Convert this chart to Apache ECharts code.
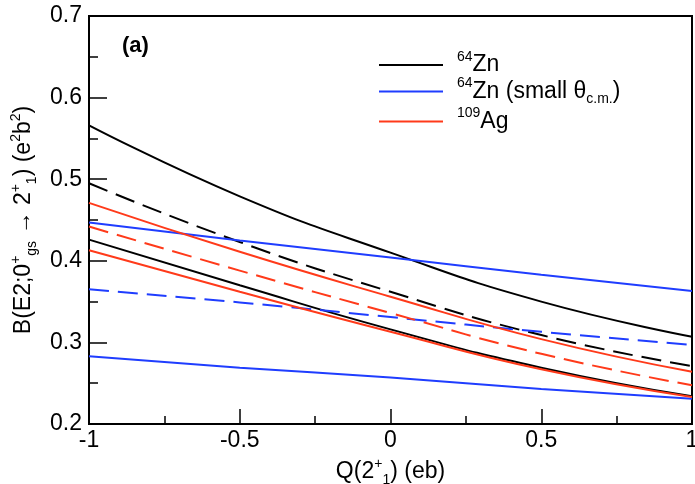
<!DOCTYPE html>
<html>
<head>
<meta charset="utf-8">
<script src="https://cdn.jsdelivr.net/npm/echarts@6/dist/echarts.min.js"></script>
<style>
html,body{margin:0;padding:0;background:#fff;}
#chart{width:695px;height:484px;}
</style>
</head>
<body>
<div id="chart"></div>
<script>
// Q(2+1) values (x axis)
const qValues = [-1, -0.5, 0, 0.5, 1];
// 64Zn (black)
const zn64Solid1 = [0.566, 0.479, 0.410, 0.350, 0.307];
const zn64Dashed = [0.495, 0.423, 0.362, 0.309, 0.271];
const zn64Solid2 = [0.426, 0.370, 0.316, 0.269, 0.234];
// 64Zn small theta c.m. (blue)
const zn64sSolid1 = [0.447, 0.425, 0.404, 0.383, 0.363];
const zn64sDashed = [0.365, 0.349, 0.331, 0.313, 0.297];
const zn64sSolid2 = [0.283, 0.269, 0.257, 0.243, 0.231];
// 109Ag (red)
const ag109Solid1 = [0.471, 0.411, 0.356, 0.304, 0.264];
const ag109Dashed = [0.442, 0.388, 0.336, 0.286, 0.2475];
const ag109Solid2 = [0.413, 0.362, 0.313, 0.267, 0.233];

const xTicks = [-1, -0.5, 0, 0.5, 1];
const yTicks = [0.2, 0.3, 0.4, 0.5, 0.6, 0.7];

const BLACK = '#000000', BLUE = '#1f3dff', RED = '#ff3a1a';
const FONT = 'Liberation Sans';

function pts(ys){ return qValues.map((q,i)=>[q, ys[i]]); }
function mk(name, ys, color, dashed){
  return {
    type:'line', name:name, data:pts(ys), smooth:0.5,
    showSymbol:false, symbol:'none', silent:true,
    lineStyle:{color:color, width:2, type: dashed ? [20,9] : 'solid'},
    itemStyle:{color:color}
  };
}

const rich = {
  sup:{fontFamily:FONT, fontSize:14, verticalAlign:'top', lineHeight:30, color:'#000'},
  sub:{fontFamily:FONT, fontSize:14, verticalAlign:'bottom', lineHeight:30, color:'#000'},
  t:{fontFamily:FONT, fontSize:23, lineHeight:30, color:'#000'}
};

const chart = echarts.init(document.getElementById('chart'), null, {renderer:'canvas'});
chart.setOption({
  animation:false,
  backgroundColor:'#fff',
  title:{
    text:'(a)', left:117, top:30,
    textStyle:{fontFamily:FONT, fontSize:22, fontWeight:'bold', color:'#000'}
  },
  legend:{
    data:['64Zn','64Zn small','109Ag'],
    orient:'vertical', left:374, top:45, itemGap:0,
    icon:'rect', itemWidth:64, itemHeight:2,
    formatter:function(n){
      if(n==='64Zn') return '{sup|64}{t|Zn}';
      if(n==='64Zn small') return '{sup|64}{t|Zn (small θ}{sub|c.m.}{t|)}';
      return '{sup|109}{t|Ag}';
    },
    textStyle:{fontFamily:FONT, fontSize:22, color:'#000', padding:[0,0,0,9], rich:rich}
  },
  grid:{left:89, right:3, top:16, bottom:60, show:true, borderColor:'#000', borderWidth:2,
        containLabel:false, outerBoundsMode:'none'},
  xAxis:{
    type:'value', min:-1, max:1, interval:0.5,
    axisLine:{show:true, onZero:false, lineStyle:{color:'#000', width:2}},
    axisTick:{show:true, inside:true, length:15, lineStyle:{color:'#000', width:1.5}},
    minorTick:{show:true, splitNumber:2, length:8, lineStyle:{color:'#000', width:1.5}},
    splitLine:{show:false},
    axisLabel:{fontFamily:FONT, fontSize:23, color:'#000', margin:5,
      formatter:function(v){ return xTicks.indexOf(v)>=0 ? String(v) : ''; }},
    name:'{t|Q(2}{sup|+}{sub|1}{t|) (eb)}',
    nameLocation:'middle', nameGap:30,
    nameTextStyle:{rich:rich, fontFamily:FONT, fontSize:23}
  },
  yAxis:{
    type:'value', min:0.2, max:0.7, interval:0.1,
    axisLine:{show:true, onZero:false, lineStyle:{color:'#000', width:2}},
    axisTick:{show:true, inside:true, length:18, lineStyle:{color:'#000', width:1.5}},
    minorTick:{show:true, splitNumber:2, length:9, lineStyle:{color:'#000', width:1.5}},
    splitLine:{show:false},
    axisLabel:{fontFamily:FONT, fontSize:23, color:'#000', margin:7,
      formatter:function(v){ var r=Math.round(v*10)/10; return yTicks.indexOf(r)>=0 ? r.toFixed(1) : ''; }},
    name:'{t|B(E2;0}{sup|+}{sub|gs}{t| → 2}{sup|+}{sub|1}{t|) (e}{sup|2}{t|b}{sup|2}{t|)}',
    nameLocation:'middle', nameGap:44, nameRotate:90,
    nameTextStyle:{rich:rich, fontFamily:FONT, fontSize:23}
  },
  series:[
    mk('64Zn', zn64Solid1, BLACK, false),
    mk('64Zn', zn64Dashed, BLACK, true),
    mk('64Zn', zn64Solid2, BLACK, false),
    mk('64Zn small', zn64sSolid1, BLUE, false),
    mk('64Zn small', zn64sDashed, BLUE, true),
    mk('64Zn small', zn64sSolid2, BLUE, false),
    mk('109Ag', ag109Solid1, RED, false),
    mk('109Ag', ag109Dashed, RED, true),
    mk('109Ag', ag109Solid2, RED, false)
  ]
});
</script>
</body>
</html>
